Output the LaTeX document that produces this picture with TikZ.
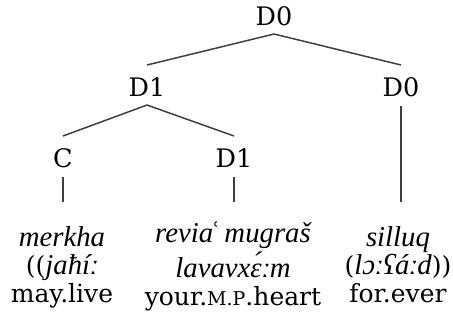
\documentclass[tikz,border=0pt]{standalone}
\usepackage{fontspec}
\setmainfont{DejaVu Serif}[ItalicFont={Liberation Serif Italic},ItalicFeatures={Scale=1.15}]
\usepackage{tikz}

% fake small capitals
\newcommand{\smcap}[1]{{\fontsize{7.6}{9}\selectfont #1}}
% same height and depth for every word column
\newcommand{\hi}{\rule{0pt}{8.4pt}}
\newcommand{\lo}{\rule[-2.8pt]{0pt}{2.8pt}}

\begin{document}
\begin{tikzpicture}[x=0.4pt,y=-0.4pt,
  font=\fontsize{10.2}{11.2}\selectfont,
  every node/.style={inner sep=0pt},
  word/.style={align=center,font=\fontsize{10}{11.2}\selectfont},
  tree/.style={draw=black!75,line width=0.6pt}]
\useasboundingbox (0,0) rectangle (453,322);
% categories
\node (top) at (274,16) {D0};
\node (dl) at (147,87) {D1};
\node (dr) at (401,87) {D0};
\node (c) at (63,158) {C};
\node (dd) at (234,158) {D1};
% words under the tree
\node[word] (merkha) at (62,267) {\hi\itshape merkha\\(({\itshape jaħíː}\\may.live\lo};
\node[word] (revia) at (233,267) {\hi\itshape revia\kern-1.6ptʿ\kern-0.6pt{} mugraš\\\itshape lavavxɛ́ːm\\your.\smcap{M.P}.heart\lo};
\node[word] (silluq) at (398,267) {\hi\itshape silluq\\({\itshape lɔːʕáːd}))\\for.ever\lo};
% branches
\draw[tree] ([yshift=-7.2pt]top.center) -- ([yshift=8.8pt]dl.center);
\draw[tree] ([yshift=-7.2pt]top.center) -- ([yshift=8.8pt]dr.center);
\draw[tree] ([yshift=-7.2pt]dl.center) -- ([yshift=8.8pt]c.center);
\draw[tree] ([yshift=-7.2pt]dl.center) -- ([yshift=8.8pt]dd.center);
\draw[tree] ([yshift=-7.6pt]c.center) -- (c |- 0,202);
\draw[tree] ([yshift=-7.6pt]dd.center) -- (dd |- 0,202);
\draw[tree] ([yshift=-7.6pt]dr.center) -- (dr |- 0,202);
\end{tikzpicture}
\end{document}
